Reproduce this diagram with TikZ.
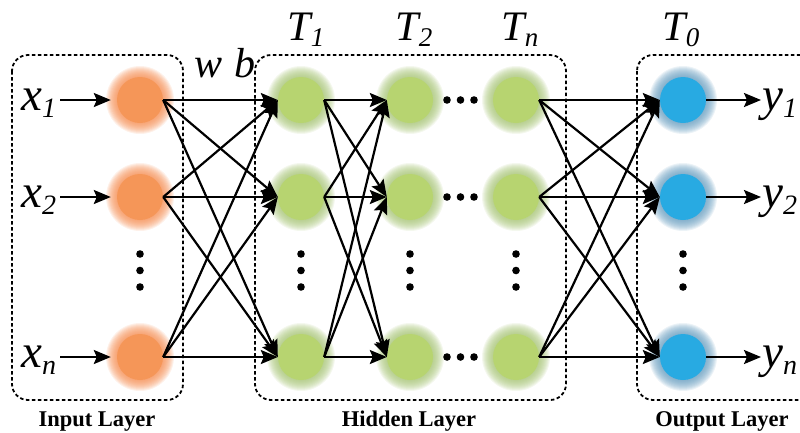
\documentclass[tikz,border=0pt]{standalone}
\usepackage{fontspec}
\setmainfont{Liberation Serif}
\usetikzlibrary{arrows.meta}
\definecolor{ocol}{RGB}{245,150,88}
\definecolor{oglow}{RGB}{245,140,80}
\definecolor{gcol}{RGB}{183,212,112}
\definecolor{gglow}{RGB}{165,195,115}
\definecolor{bcol}{RGB}{40,170,226}
\definecolor{bglow}{RGB}{100,155,190}
\newcommand\glowring[2]{\foreach \rr in {24,...,34}{\fill[#2, fill opacity=0.12] (#1) circle[radius=\rr pt];}}
\newcommand\lbl[3]{#2\raisebox{-0.15em}{\fontsize{#1}{#1}\selectfont #3}}
\begin{document}
\begin{tikzpicture}[x=1pt,y=-1pt,
  neuron/.style={circle, minimum size=46pt, inner sep=0pt, draw=none},
  inn/.style={neuron, fill=ocol},
  hid/.style={neuron, fill=gcol},
  outn/.style={neuron, fill=bcol},
  conn/.style={line width=2.2pt, -{Stealth[length=17pt,width=14pt,inset=3pt]}},
  layerbox/.style={draw, line width=1.8pt, dash pattern=on 3.5pt off 2.5pt, rounded corners=16pt},
  bigit/.style={font=\fontsize{42}{42}\selectfont\itshape, inner sep=0pt},
  varit/.style={font=\fontsize{47}{47}\selectfont\itshape, inner sep=0pt, anchor=base west},
  laylbl/.style={font=\fontsize{22.5}{22.5}\selectfont\bfseries, inner sep=0pt, anchor=base},
  dotc/.style={fill=black}
]
\useasboundingbox (0,0) rectangle (800,432);

% layer boxes
\draw[layerbox] (12,55) rectangle (183,400);
\draw[layerbox] (255,55) rectangle (566,400);
\draw[layerbox] (637,55) rectangle (830,400);

% glows
\foreach \y in {100,197,357}{
  \glowring{140,\y}{oglow}
  \glowring{301,\y}{gglow}
  \glowring{410,\y}{gglow}
  \glowring{516,\y}{gglow}
  \glowring{683,\y}{bglow}
}

% neurons
\foreach \r/\y in {1/100,2/197,n/357}{
  \node[inn] (i\r) at (140,\y) {};
  \node[hid] (a\r) at (301,\y) {};
  \node[hid] (b\r) at (410,\y) {};
  \node[hid] (c\r) at (516,\y) {};
  \node[outn] (o\r) at (683,\y) {};
  \coordinate (xs\r) at (60,\y);
  \coordinate (ye\r) at (761,\y);
}

% input / output arrows
\foreach \r in {1,2,n}{
  \draw[conn, shorten >=6pt] (xs\r) -- (i\r);
  \draw[conn] (o\r.east) -- (ye\r);
}

% full connections
\foreach \s in {1,2,n}{
  \foreach \t in {1,2,n}{
    \draw[conn] (i\s.east) -- (a\t.west);
    \draw[conn] (a\s.east) -- (b\t.west);
    \draw[conn] (c\s.east) -- (o\t.west);
  }
}

% horizontal dots
\foreach \y in {100,197,357}{
  \foreach \x in {447,460.5,474}{
    \fill[dotc] (\x,\y) circle[radius=3.8pt];
  }
}
% vertical dots
\foreach \x in {140,301,410,516,683}{
  \foreach \y in {254,270.5,287}{
    \fill[dotc] (\x,\y) circle[radius=3.8pt];
  }
}

% labels
\node[varit] (lx1) at (21,110) {\lbl{28}{x}{1}};
\node[varit] (lx2) at (21,207) {\lbl{28}{x}{2}};
\node[varit] (lxn) at (21,367) {\lbl{28}{x}{n}};
\node[varit] (ly1) at (762,110) {\lbl{28}{y}{1}};
\node[varit] (ly2) at (762,207) {\lbl{28}{y}{2}};
\node[varit] (lyn) at (762,367) {\lbl{28}{y}{n}};

\node[bigit, anchor=base] (t1) at (306,40) {\lbl{27}{T}{1}};
\node[bigit, anchor=base] (t2) at (414,40) {\lbl{27}{T}{2}};
\node[bigit, anchor=base] (tn) at (520,40) {\lbl{27}{T}{n}};
\node[bigit, anchor=base] (t0) at (681,40) {\lbl{27}{T}{0}};
\node[bigit, anchor=base] (wb) at (225,77) {w\kern0.3em b};

\node[laylbl] (il) at (97,426) {Input Layer};
\node[laylbl] (hl) at (409,426) {Hidden Layer};
\node[laylbl] (ol) at (722,426) {Output Layer};
\end{tikzpicture}
\end{document}
